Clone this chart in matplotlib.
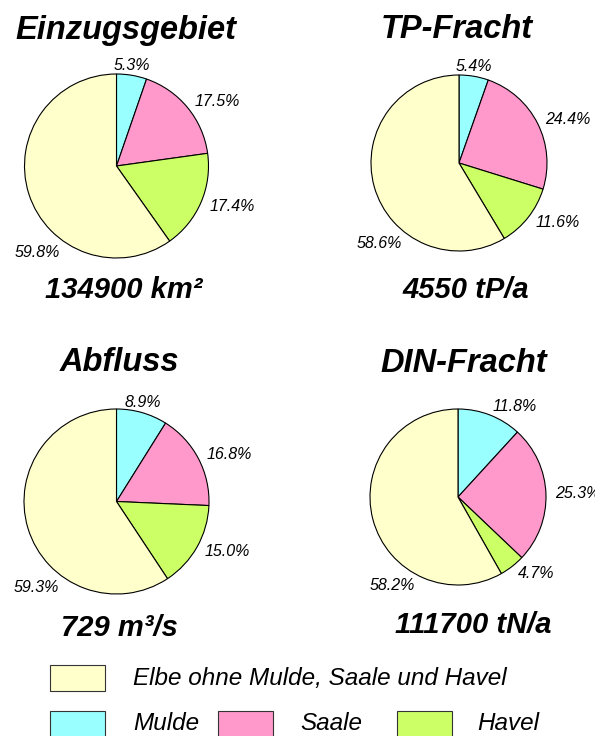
import numpy as np
import matplotlib
matplotlib.use("Agg")
import matplotlib.pyplot as plt
from matplotlib.patches import Rectangle

plt.rcParams['font.family'] = ['Liberation Sans', 'DejaVu Sans']

# shares in percent, clockwise from 12 o'clock: Mulde, Saale, Havel, rest of the Elbe
titles = ["Einzugsgebiet", "TP-Fracht", "Abfluss", "DIN-Fracht"]
totals = ["134900 km²", "4550 tP/a", "729 m³/s", "111700 tN/a"]
mulde = [5.3, 5.4, 8.9, 11.8]
saale = [17.5, 24.4, 16.8, 25.3]
havel = [17.4, 11.6, 15.0, 4.7]
elbe = [59.8, 58.6, 59.3, 58.2]

names = ["Elbe ohne Mulde, Saale und Havel", "Mulde", "Saale", "Havel"]
colors = {"Elbe": "#FFFFCC", "Mulde": "#99FFFF", "Saale": "#FF99CC", "Havel": "#CCFF66"}

W, H = 595, 736
fig = plt.figure(figsize=(W / 100, H / 100), dpi=100)

# pixel layout of each panel: pie centre, radius, title / total positions
centres = [(116.5, 166), (459, 163), (116.5, 501.5), (458, 497)]
radii = [92, 88, 92.5, 88]
title_pos = [(126, 39.5), (456.5, 38.5), (119, 371.5), (463.5, 371.7)]
total_pos = [(124, 298), (465.5, 297.5), (119, 636), (473.5, 633)]
elbe_label_angle = [237, 235, 236, 244]


def fx(x):
    return x / W


def fy(y):
    return 1 - y / H


for i in range(4):
    cx, cy = centres[i]
    r = radii[i]
    ax = fig.add_axes([fx(cx - r), fy(cy + r), 2 * r / W, 2 * r / H])
    vals = [mulde[i], saale[i], havel[i], elbe[i]]
    cols = [colors["Mulde"], colors["Saale"], colors["Havel"], colors["Elbe"]]
    wedges, _ = ax.pie(vals, colors=cols, startangle=90, counterclock=False,
                       radius=1, wedgeprops=dict(edgecolor="black", linewidth=0.8))
    ax.set_xlim(-1, 1)
    ax.set_ylim(-1, 1)
    ax.axis("off")

    # percentage labels for the three tributaries
    for w, v in zip(wedges[:3], vals[:3]):
        ang = np.deg2rad((w.theta1 + w.theta2) / 2)
        c, s = np.cos(ang), np.sin(ang)
        if c > 0.3:
            ha = "left"
        elif c < -0.3:
            ha = "right"
        else:
            ha = "center"
        if abs(c) <= 0.3:
            d = 1.03
            va = "bottom" if s > 0 else "top"
        else:
            d = 1.1
            va = "center"
        ax.text(d * c, d * s, f"{v:.1f}%", ha=ha, va=va, fontsize=11.5,
                style="italic", clip_on=False)

    ang = np.deg2rad(elbe_label_angle[i])
    ax.text(1.12 * np.cos(ang), 1.12 * np.sin(ang), f"{elbe[i]:.1f}%",
            ha="right", va="center", fontsize=11.5, style="italic", clip_on=False)

    tx, ty = title_pos[i]
    fig.text(fx(tx), fy(ty), titles[i], ha="center", va="baseline",
             fontsize=23.5, fontweight="bold", style="italic")
    bx, by = total_pos[i]
    fig.text(fx(bx), fy(by), totals[i], ha="center", va="baseline",
             fontsize=21, fontweight="bold", style="italic")

# legend drawn in pixel coordinates
lax = fig.add_axes([0, 0, 1, 1])
lax.set_xlim(0, W)
lax.set_ylim(H, 0)
lax.axis("off")
boxes = [(50, 665, "Elbe", 133, 679),
         (50, 711, "Mulde", 133, 724),
         (218, 711, "Saale", 300, 724),
         (397, 711, "Havel", 477, 724)]
for (x, y, key, tx, ty), label in zip(boxes, names):
    lax.add_patch(Rectangle((x, y), 55, 26, facecolor=colors[key],
                            edgecolor="#333333", linewidth=0.8, clip_on=False))
    lax.text(tx, ty, label, ha="left", va="center", fontsize=17.5, style="italic")

fig.savefig("out.png", dpi=100)
